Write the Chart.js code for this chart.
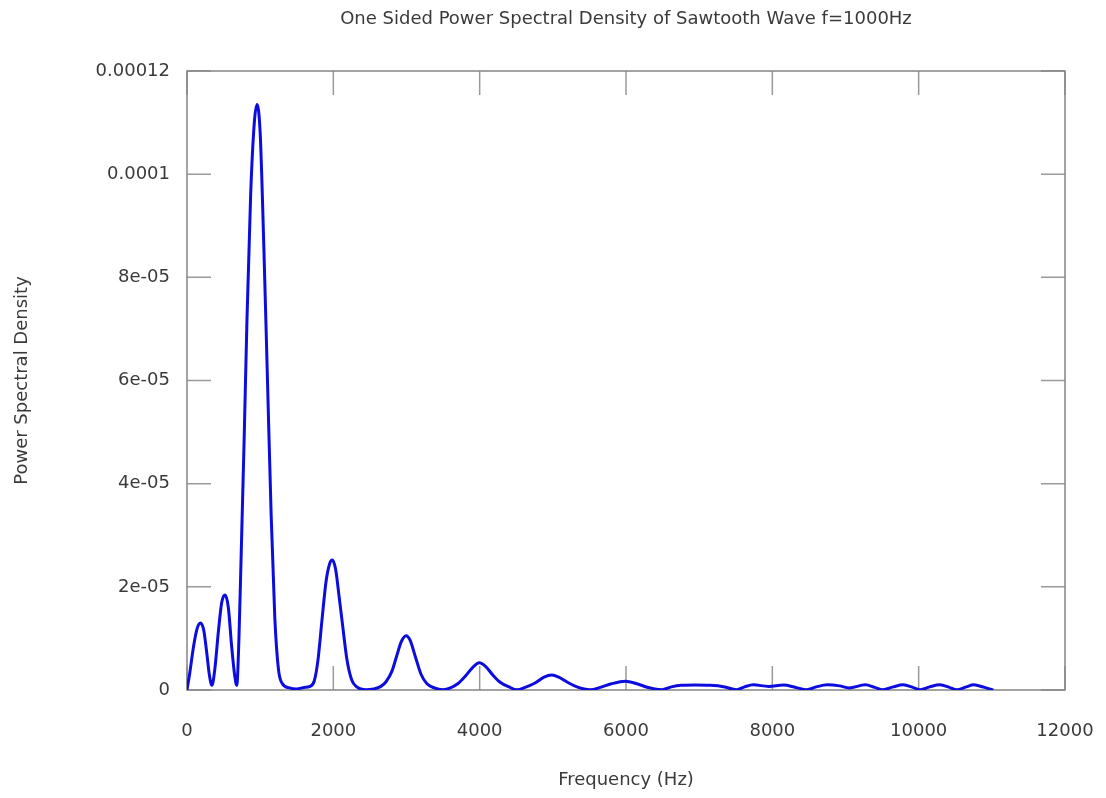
<!DOCTYPE html>
<html>
<head>
<meta charset="utf-8">
<script src="https://cdn.jsdelivr.net/npm/chart.js@4"></script>
<style>
    body { margin: 0; background: #ffffff; }
</style>
</head>
<body>
<canvas id="graficoPSD" width="1106" height="798"></canvas>
<script>
// valores (Hz, densidade espectral)
const frequencias = [
    0, 40, 90, 140, 185, 230, 270, 305, 340, 380, 430, 475, 520, 565, 610, 650, 680,
    710, 740, 780, 820, 870, 920, 957, 1000, 1050, 1100, 1150, 1200, 1250, 1300,
    1400, 1500, 1600, 1680, 1740, 1790, 1845, 1900, 1950, 1985, 2030, 2080, 2118,
    2187, 2250, 2320, 2450, 2550, 2650, 2720, 2800, 2870, 2930, 2995, 3050, 3120,
    3200, 3280, 3380, 3500, 3600, 3700, 3800, 3900, 3995, 4080, 4180, 4280, 4400,
    4510, 4620, 4750, 4880, 4985, 5080, 5200, 5330, 5510, 5650, 5800, 5990, 6150,
    6300, 6490, 6620, 6750, 6950, 7150, 7350, 7510, 7620, 7740, 7950, 8150, 8320,
    8470, 8600, 8750, 8920, 9050, 9270, 9400, 9510, 9650, 9790, 9920, 10020, 10150,
    10290, 10420, 10520, 10650, 10750, 10900, 11020
];

const densidades = [
    0, 3.5e-6, 8.5e-6, 1.2e-5, 1.3e-5, 1.15e-5, 7.2e-6, 3e-6, 0.9e-6, 4e-6, 1.15e-5, 1.7e-5, 1.84e-5, 1.6e-5, 8.5e-6, 3e-6, 0.9e-6,
    1.0e-5, 2.6e-5, 4.8e-5, 7.2e-5, 9.6e-5, 1.1e-4, 1.135e-4, 1.08e-4, 8.6e-5, 6.0e-5, 3.4e-5, 1.4e-5, 4e-6, 1.3e-6,
    0.4e-6, 0.2e-6, 0.5e-6, 0.7e-6, 1.8e-6, 5.8e-6, 1.36e-5, 2.1e-5, 2.45e-5, 2.52e-5, 2.35e-5, 1.8e-5, 1.36e-5,
    5.8e-6, 2.0e-6, 0.6e-6, 0.05e-6, 0.2e-6, 0.7e-6, 1.6e-6, 3.6e-6, 6.8e-6, 9.4e-6, 1.05e-5, 9.6e-6, 6.5e-6,
    3.0e-6, 1.2e-6, 0.4e-6, 0.05e-6, 0.4e-6, 1.2e-6, 2.6e-6, 4.3e-6, 5.3e-6, 4.6e-6, 2.9e-6, 1.5e-6, 0.6e-6,
    0.05e-6, 0.5e-6, 1.3e-6, 2.5e-6, 2.9e-6, 2.5e-6, 1.5e-6, 0.6e-6, 0.05e-6, 0.5e-6, 1.2e-6, 1.7e-6, 1.2e-6,
    0.5e-6, 0.05e-6, 0.6e-6, 0.9e-6, 0.95e-6, 0.9e-6, 0.6e-6, 0.05e-6, 0.6e-6, 1.0e-6, 0.7e-6, 0.95e-6, 0.5e-6,
    0.05e-6, 0.6e-6, 1.0e-6, 0.8e-6, 0.4e-6, 1.0e-6, 0.5e-6, 0.05e-6, 0.6e-6, 1.0e-6, 0.5e-6, 0.05e-6, 0.6e-6,
    1.0e-6, 0.5e-6, 0.05e-6, 0.6e-6, 1.0e-6, 0.5e-6, 0
];

const xTickLabels = ["0", "2000", "4000", "6000", "8000", "10000", "12000"];
const yTickLabels = ["0", "2e-05", "4e-05", "6e-05", "8e-05", "0.0001", "0.00012"];

const corTexto = "#3a3a3a";
const fonte = { family: "DejaVu Sans", size: 18, weight: "normal" };

// moldura com ticks para dentro nos quatro lados
const moldura = {
    id: "moldura",
    beforeDatasetsDraw(chart) {
        const { ctx, chartArea: a, scales } = chart;
        const tam = 24;
        ctx.save();
        ctx.strokeStyle = "#9a9a9a";
        ctx.lineWidth = 1.5;
        ctx.beginPath();
        scales.x.ticks.forEach((t) => {
            const px = scales.x.getPixelForValue(t.value);
            ctx.moveTo(px, a.bottom);
            ctx.lineTo(px, a.bottom - tam);
            ctx.moveTo(px, a.top);
            ctx.lineTo(px, a.top + tam);
        });
        scales.y.ticks.forEach((t) => {
            const py = scales.y.getPixelForValue(t.value);
            ctx.moveTo(a.left, py);
            ctx.lineTo(a.left + tam, py);
            ctx.moveTo(a.right, py);
            ctx.lineTo(a.right - tam, py);
        });
        ctx.stroke();
        ctx.strokeStyle = "#858585";
        ctx.strokeRect(a.left, a.top, a.right - a.left, a.bottom - a.top);
        ctx.restore();
    },
};

const pontos = frequencias.map((f, i) => ({ x: f, y: densidades[i] }));

const graficoPSD = new Chart(document.getElementById("graficoPSD"), {
    type: "line",
    data: {
        datasets: [
            {
                label: "PSD",
                data: pontos,
                borderColor: "rgb(12, 12, 222)",
                borderWidth: 3,
                pointRadius: 0,
                cubicInterpolationMode: "monotone",
                fill: false,
            },
        ],
    },
    options: {
        responsive: false,
        animation: false,
        layout: { padding: { left: 0, right: 41, top: 0, bottom: 0 } },
        plugins: {
            legend: { display: false },
            tooltip: { enabled: false },
            title: {
                display: true,
                fullSize: false,
                text: "One Sided Power Spectral Density of Sawtooth Wave f=1000Hz",
                color: corTexto,
                font: fonte,
                padding: { top: 9, bottom: 40.4 },
            },
        },
        scales: {
            x: {
                type: "linear",
                min: 0,
                max: 12000,
                grid: { display: false, drawTicks: false },
                border: { display: false },
                ticks: {
                    stepSize: 2000,
                    padding: 31,
                    color: corTexto,
                    font: fonte,
                    maxRotation: 0,
                    callback: (v, i) => xTickLabels[i] ?? String(v),
                },
                title: {
                    display: true,
                    text: "Frequency (Hz)",
                    color: corTexto,
                    font: fonte,
                    padding: { top: 0, bottom: 7 },
                },
                afterFit: (s) => {
                    s.height = 108;
                    s.paddingLeft = 0;
                    s.paddingRight = 0;
                },
            },
            y: {
                min: 0,
                max: 0.00012,
                grid: { display: false, drawTicks: false },
                border: { display: false },
                ticks: {
                    stepSize: 0.00002,
                    padding: 17,
                    color: corTexto,
                    font: fonte,
                    callback: (v, i) => yTickLabels[i] ?? String(v),
                },
                title: {
                    display: true,
                    text: "Power Spectral Density",
                    color: corTexto,
                    font: fonte,
                    padding: { top: 11.6, bottom: 0 },
                },
                afterFit: (s) => { s.width = 187; },
            },
        },
    },
    plugins: [moldura],
});
</script>
</body>
</html>
